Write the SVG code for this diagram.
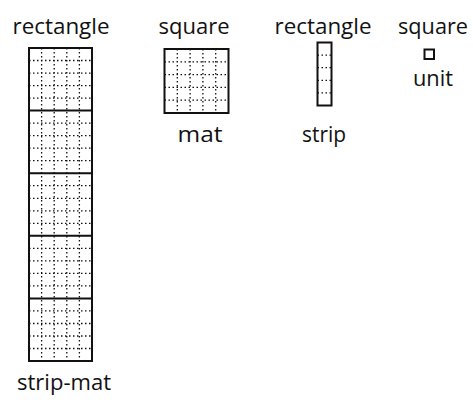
<svg xmlns="http://www.w3.org/2000/svg" width="473" height="403" viewBox="0 0 473 403">
<style>
.lbl{font-family:"Open Sans","Noto Sans","DejaVu Sans",sans-serif;font-size:21px;fill:#111;text-anchor:middle}
.box{fill:none;stroke:#111;stroke-width:2}
.grid{fill:none;stroke:#111;stroke-width:1.3;stroke-dasharray:1.5 2.5}
</style>
<rect width="473" height="403" fill="#fff"/>
<g id="strip-mat">
<path class="grid" d="M41.6 48V361M54.2 48V361M66.8 48V361M79.4 48V361
M29 60.5H92M29 73.1H92M29 85.6H92M29 98.1H92
M29 123.1H92M29 135.7H92M29 148.2H92M29 160.7H92
M29 185.7H92M29 198.3H92M29 210.8H92M29 223.3H92
M29 248.3H92M29 260.9H92M29 273.4H92M29 285.9H92
M29 310.9H92M29 323.5H92M29 336H92M29 348.5H92"/>
<rect class="box" x="29" y="48" width="63" height="313"/>
<path class="box" d="M29 110.6H92M29 173.2H92M29 235.8H92M29 298.4H92"/>
<text class="lbl" x="61" y="34" textLength="97" lengthAdjust="spacingAndGlyphs">rectangle</text>
<text class="lbl" x="64" y="390" textLength="94" lengthAdjust="spacingAndGlyphs">strip-mat</text>
</g>
<g id="mat">
<path class="grid" d="M177.3 49V113M190.1 49V113M202.9 49V113M215.7 49V113M164.5 61.8H228.5M164.5 74.6H228.5M164.5 87.4H228.5M164.5 100.2H228.5"/>
<rect class="box" x="164.5" y="49" width="64" height="64"/>
<text class="lbl" x="194" y="34" textLength="71" lengthAdjust="spacingAndGlyphs">square</text>
<text class="lbl" x="200" y="141.5" textLength="45" lengthAdjust="spacingAndGlyphs">mat</text>
</g>
<g id="strip">
<path class="grid" d="M317.5 55.1H331.5M317.5 67.7H331.5M317.5 80.3H331.5M317.5 92.9H331.5"/>
<rect class="box" x="317.5" y="42.5" width="14" height="63"/>
<text class="lbl" x="323" y="34" textLength="97" lengthAdjust="spacingAndGlyphs">rectangle</text>
<text class="lbl" x="324" y="141.5" textLength="44" lengthAdjust="spacingAndGlyphs">strip</text>
</g>
<g id="unit">
<rect class="box" x="424.5" y="49.5" width="9.5" height="9.5" stroke-width="1.6"/>
<text class="lbl" x="433" y="34" textLength="70" lengthAdjust="spacingAndGlyphs">square</text>
<text class="lbl" x="433" y="86" textLength="40" lengthAdjust="spacingAndGlyphs">unit</text>
</g>
<g id="connectors"/>
</svg>
